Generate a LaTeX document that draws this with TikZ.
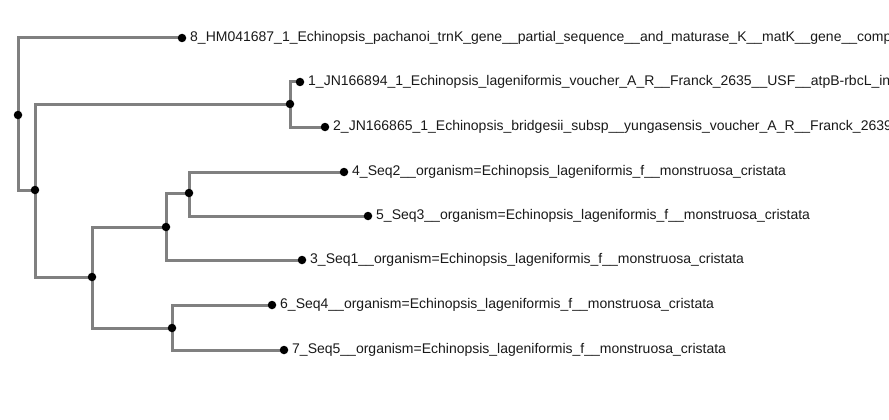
\documentclass[tikz,border=0pt]{standalone}
\usepackage{fontspec}
\setmainfont{Liberation Sans}
\begin{document}
\begin{tikzpicture}[x=1pt,y=-1pt,
  edge/.style={draw=black!50,line width=3pt},
  dot/.style={circle,fill=black,inner sep=0pt,minimum size=8.5pt},
  leaflabel/.style={anchor=west,inner sep=0pt,xshift=8pt,font=\fontsize{14}{16}\selectfont,text=black!90}]
\useasboundingbox (0,0) rectangle (889,420);
\clip (0,0) rectangle (889,420);
% internal nodes
\coordinate (root) at (18,115);
\coordinate (A) at (35,190);
\coordinate (B) at (290,104);
\coordinate (C) at (92,277);
\coordinate (D) at (166,227);
\coordinate (E) at (172,328);
\coordinate (F) at (189,193);
% leaves
\coordinate (l8) at (182,38);
\coordinate (l1) at (300,82);
\coordinate (l2) at (325,127);
\coordinate (l4) at (344,172);
\coordinate (l5) at (368,216);
\coordinate (l3) at (302,260);
\coordinate (l6) at (272,305);
\coordinate (l7) at (284,350);
% edges
\draw[edge] (l8) -| (root) |- (A);
\draw[edge] (B) -| (A) |- (C);
\draw[edge] (l1) -| (B) |- (l2);
\draw[edge] (D) -| (C) |- (E);
\draw[edge] (F) -| (D) |- (l3);
\draw[edge] (l4) -| (F) |- (l5);
\draw[edge] (l6) -| (E) |- (l7);
% dots
\foreach \n in {root,A,B,C,D,E,F,l1,l2,l3,l4,l5,l6,l7,l8}
  \node[dot] (d\n) at (\n) {};
% labels
\node[leaflabel] (t8) at (l8) {8\_HM041687\_1\_Echinopsis\_pachanoi\_trnK\_gene\_\_partial\_sequence\_\_and\_maturase\_K\_\_matK\_\_gene\_\_complete};
\node[leaflabel] (t1) at (l1) {1\_JN166894\_1\_Echinopsis\_lageniformis\_voucher\_A\_R\_\_Franck\_2635\_\_USF\_\_atpB-rbcL\_intergenic};
\node[leaflabel] (t2) at (l2) {2\_JN166865\_1\_Echinopsis\_bridgesii\_subsp\_\_yungasensis\_voucher\_A\_R\_\_Franck\_2639\_\_USF};
\node[leaflabel] (t4) at (l4) {4\_Seq2\_\_organism=Echinopsis\_lageniformis\_f\_\_monstruosa\_cristata};
\node[leaflabel] (t5) at (l5) {5\_Seq3\_\_organism=Echinopsis\_lageniformis\_f\_\_monstruosa\_cristata};
\node[leaflabel] (t3) at (l3) {3\_Seq1\_\_organism=Echinopsis\_lageniformis\_f\_\_monstruosa\_cristata};
\node[leaflabel] (t6) at (l6) {6\_Seq4\_\_organism=Echinopsis\_lageniformis\_f\_\_monstruosa\_cristata};
\node[leaflabel] (t7) at (l7) {7\_Seq5\_\_organism=Echinopsis\_lageniformis\_f\_\_monstruosa\_cristata};
\end{tikzpicture}
\end{document}
